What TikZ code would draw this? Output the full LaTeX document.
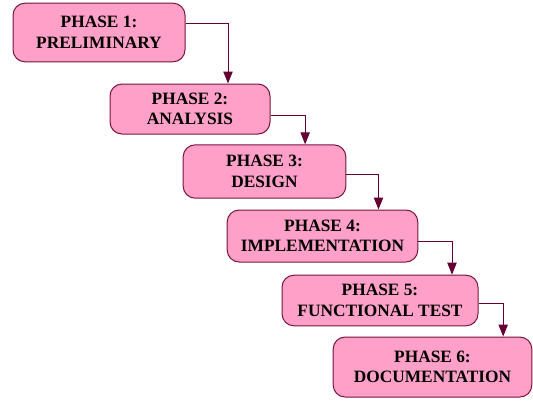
\documentclass[tikz,border=0pt]{standalone}
\usepackage{fontspec}
\setmainfont{Liberation Serif}
\usetikzlibrary{arrows.meta}

\definecolor{phasefill}{RGB}{255,160,200}
\definecolor{phaseline}{RGB}{120,20,60}
\definecolor{flowline}{RGB}{102,0,51}

\tikzset{every picture/.style={line width=0.75pt}}
\tikzset{
  phasebox/.style={draw=phaseline, fill=phasefill, rounded corners=9pt, align=center,
    inner sep=0pt, font=\fontsize{13}{15.5}\selectfont\bfseries},
  flow/.style={draw=flowline, -{Triangle[length=9pt,width=7pt]}}
}

\begin{document}
\begin{tikzpicture}[x=0.75pt,y=0.75pt,yscale=-1,xscale=1]
\useasboundingbox (0,0) rectangle (533,401);

%Shape: Rounded Rect [id:phase1]
\node[phasebox, minimum width=129pt, minimum height=44pt] (p1) at (99,32.5) {PHASE 1:\\PRELIMINARY};
%Shape: Rounded Rect [id:phase2]
\node[phasebox, minimum width=120pt, minimum height=37.5pt] (p2) at (190,109) {PHASE 2:\\ANALYSIS};
%Shape: Rounded Rect [id:phase3]
\node[phasebox, minimum width=122pt, minimum height=40pt] (p3) at (264.5,171.5) {PHASE 3:\\DESIGN};
%Shape: Rounded Rect [id:phase4]
\node[phasebox, minimum width=143pt, minimum height=39pt] (p4) at (322.5,236) {PHASE 4:\\IMPLEMENTATION};
%Shape: Rounded Rect [id:phase5]
\node[phasebox, minimum width=147pt, minimum height=38pt] (p5) at (380,300.5) {PHASE 5:\\FUNCTIONAL TEST};
%Shape: Rounded Rect [id:phase6]
\node[phasebox, minimum width=149pt, minimum height=45pt] (p6) at (432.5,367) {PHASE 6:\\DOCUMENTATION};

%Elbow Lines
\draw[flow] ([yshift=-7pt]p1.east) -| ([xshift=28.5pt]p2.north);
\draw[flow] ([yshift=5pt]p2.east) -| ([xshift=30.5pt]p3.north);
\draw[flow] ([yshift=2.5pt]p3.east) -| ([xshift=42pt]p4.north);
\draw[flow] ([yshift=4pt]p4.east) -| ([xshift=54pt]p5.north);
\draw[flow] ([yshift=2.5pt]p5.east) -| ([xshift=53pt]p6.north);

\end{tikzpicture}
\end{document}
